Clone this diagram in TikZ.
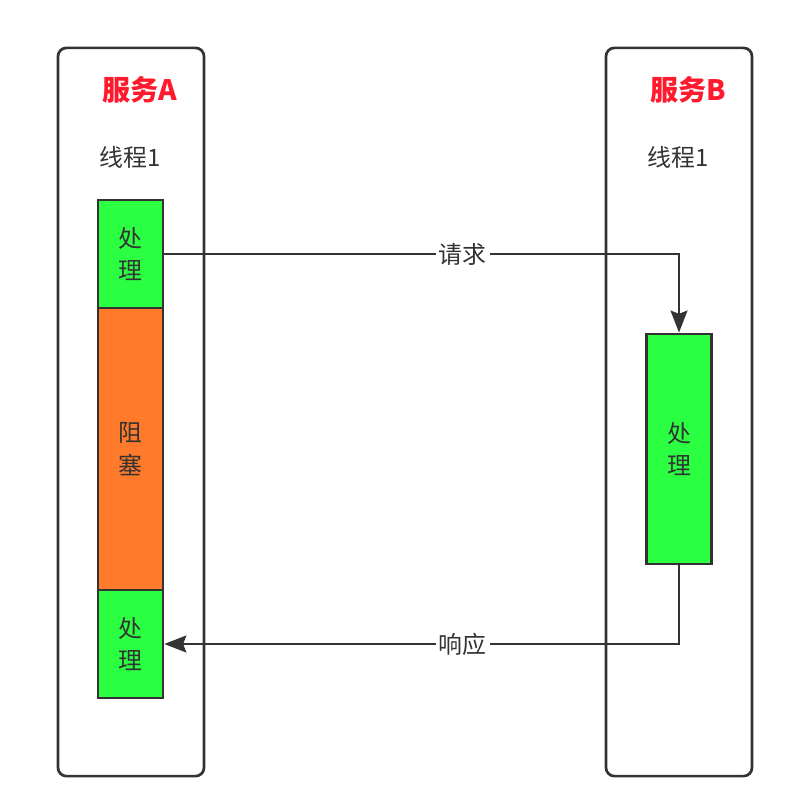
\documentclass[tikz,border=0pt]{standalone}
\usepackage{fontspec}
\setmainfont{Noto Sans CJK SC}
\usetikzlibrary{arrows.meta}
\definecolor{linegray}{HTML}{333333}
\definecolor{procgreen}{HTML}{2BFF42}
\definecolor{blockorange}{HTML}{FF7A2A}
\definecolor{titlered}{HTML}{FF1A2E}
\tikzstyle{service} = [rectangle, rounded corners=6pt, minimum width=3.65cm, minimum height=18.2cm, draw=linegray, line width=1.9pt]
\tikzstyle{title} = [text=titlered, font=\fontsize{20}{24}\selectfont\bfseries]
\tikzstyle{thread} = [text=linegray, font=\fontsize{17}{20}\selectfont]
\tikzstyle{process} = [rectangle, minimum width=1.62cm, minimum height=2.7cm, draw=linegray, line width=1.9pt, fill=procgreen, text=linegray, align=center, font=\fontsize{17}{23}\selectfont]
\tikzstyle{blocked} = [process, minimum height=7.05cm, fill=blockorange]
\tikzstyle{arrow} = [line width=1.8pt, draw=linegray, -{Stealth[length=0.55cm, width=0.42cm, inset=0.08cm]}]
\tikzstyle{msg} = [fill=white, text=linegray, font=\fontsize{17}{20}\selectfont, inner sep=2pt]

\begin{document}
\begin{tikzpicture}[x=0.025cm, y=-0.025cm]
    \useasboundingbox (0,0) rectangle (790,784);
    % Services
    \node (serviceA) [service] at (131,412) {};
    \node (serviceB) [service] at (679,412) {};
    \node (titleA) [title] at (140,90) {服务A};
    \node (titleB) [title] at (688,90) {服务B};
    \node (threadA) [thread] at (130,157) {线程1};
    \node (threadB) [thread] at (678,157) {线程1};

    % Thread of A
    \node (procA1) [process] at (130.5,254) {处\\理};
    \node (blockA) [blocked] at (130.5,449) {阻\\塞};
    \node (procA2) [process] at (130.5,644) {处\\理};

    % Thread of B
    \node (procB) [process, minimum height=5.75cm] at (679,449) {处\\理};

    % Arrows
    \draw [arrow] (procA1.east) -| node[msg, pos=0.29] {请求} (procB.north);
    \draw [arrow] (procB.south) |- node[msg, pos=0.71] {响应} (procA2.east);
\end{tikzpicture}
\end{document}
